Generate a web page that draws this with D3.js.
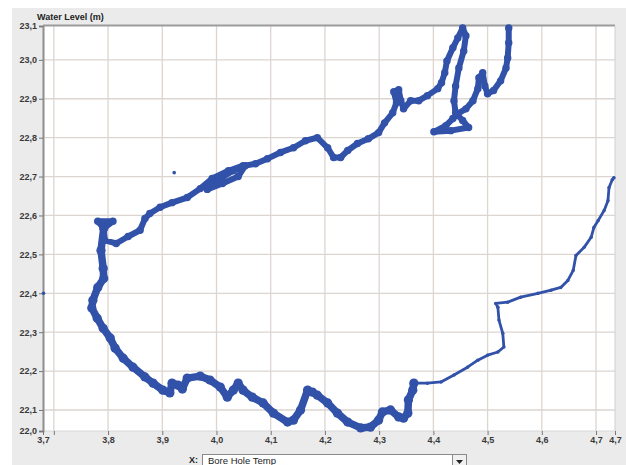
<!DOCTYPE html>
<html><head><meta charset="utf-8">
<script src="https://cdn.jsdelivr.net/npm/d3@7"></script>
<style>body{margin:0;background:#fff}svg{display:block}</style>
</head><body><div id="chart"></div>
<script>
// ---- data (Bore Hole Temp vs Water Level) ----
const xLabel = "Bore Hole Temp";
const yLabel = "Water Level (m)";
const xDomain = [3.680, 4.735];
const yDomain = [22.046, 23.087];
const xTicks = [3.7, 3.8, 3.9, 4.0, 4.1, 4.2, 4.3, 4.4, 4.5, 4.6, 4.7];
const yTicks = [22.1, 22.2, 22.3, 22.4, 22.5, 22.6, 22.7, 22.8, 22.9, 23.0];

const upperTrack = [[4.539,23.082],[4.539,23.044],[4.537,23.005],[4.534,22.979],[4.524,22.946],[4.511,22.921],[4.500,22.913],[4.495,22.933],[4.491,22.967],[4.484,22.954],[4.482,22.926],[4.473,22.895],[4.460,22.874],[4.445,22.862],[4.436,22.849],[4.423,22.831],[4.401,22.815],[4.432,22.818],[4.465,22.826],[4.454,22.844],[4.441,22.864],[4.438,22.895],[4.441,22.933],[4.447,22.979],[4.456,23.023],[4.460,23.062],[4.454,23.082],[4.445,23.056],[4.436,23.031],[4.425,22.997],[4.421,22.967],[4.415,22.941],[4.408,22.926],[4.389,22.908],[4.373,22.895],[4.358,22.895],[4.345,22.874],[4.340,22.895],[4.336,22.923],[4.327,22.918],[4.332,22.890],[4.325,22.864],[4.310,22.838],[4.299,22.813],[4.280,22.797],[4.260,22.785],[4.242,22.767],[4.229,22.749],[4.216,22.749],[4.205,22.774],[4.186,22.800],[4.164,22.792],[4.142,22.774],[4.118,22.762],[4.094,22.746],[4.072,22.733],[4.053,22.728],[4.040,22.700],[4.011,22.682],[3.983,22.667],[4.003,22.692],[4.031,22.715],[4.049,22.728],[4.022,22.715],[3.992,22.695],[3.970,22.669],[3.946,22.646],[3.918,22.633],[3.896,22.621],[3.877,22.605],[3.868,22.592],[3.859,22.562],[3.837,22.546],[3.815,22.528],[3.794,22.536],[3.792,22.567],[3.781,22.585],[3.809,22.585],[3.792,22.567]];

const lowerTrack = [[3.792,22.567],[3.787,22.510],[3.791,22.464],[3.792,22.438],[3.781,22.415],[3.772,22.382],[3.770,22.362],[3.780,22.336],[3.791,22.310],[3.804,22.285],[3.813,22.259],[3.828,22.233],[3.846,22.210],[3.868,22.185],[3.883,22.169],[3.901,22.151],[3.914,22.144],[3.918,22.169],[3.929,22.164],[3.937,22.154],[3.946,22.182],[3.970,22.187],[3.988,22.177],[4.007,22.159],[4.020,22.133],[4.031,22.151],[4.040,22.169],[4.049,22.151],[4.066,22.133],[4.086,22.118],[4.105,22.092],[4.131,22.069],[4.142,22.074],[4.155,22.100],[4.168,22.151],[4.177,22.146],[4.186,22.138],[4.205,22.118],[4.223,22.092],[4.242,22.069],[4.266,22.054],[4.284,22.056],[4.299,22.074],[4.306,22.095],[4.321,22.100],[4.336,22.082],[4.345,22.079],[4.353,22.092],[4.354,22.126],[4.362,22.151],[4.364,22.169]];

const thinTrack = [[4.364,22.169],[4.389,22.169],[4.414,22.172],[4.438,22.190],[4.463,22.210],[4.482,22.228],[4.500,22.241],[4.519,22.249],[4.530,22.262],[4.528,22.297],[4.521,22.331],[4.519,22.364],[4.515,22.374],[4.537,22.377],[4.561,22.390],[4.593,22.400],[4.617,22.408],[4.635,22.415],[4.648,22.433],[4.658,22.459],[4.663,22.497],[4.678,22.518],[4.691,22.544],[4.696,22.569],[4.704,22.587],[4.715,22.613],[4.722,22.638],[4.724,22.672],[4.730,22.692],[4.733,22.697]];

const outliers = [[3.922,22.710],[3.681,22.400]];

// ---- layout ----
const W = 626, H = 465;
const m = {left: 43, top: 26, right: 615, bottom: 431};
const blue = "#3152a8";
const font = "'Liberation Sans', Arial, sans-serif";

const svg = d3.select("#chart").append("svg").attr("width", W).attr("height", H);
svg.append("rect").attr("x", 0).attr("y", 0).attr("width", W).attr("height", H).attr("fill", "#fff");
svg.append("rect").attr("x", 12).attr("y", 8).attr("width", W - 12).attr("height", H - 8).attr("fill", "#ebebeb");

const x = d3.scaleLinear().domain(xDomain).range([m.left, m.right]);
const y = d3.scaleLinear().domain(yDomain).range([m.bottom, m.top]);

svg.append("rect").attr("x", m.left).attr("y", m.top)
  .attr("width", m.right - m.left).attr("height", m.bottom - m.top).attr("fill", "#fff");

// grid
const g = svg.append("g");
g.selectAll("line.vx").data(xTicks).join("line")
  .attr("x1", d => x(d)).attr("x2", d => x(d)).attr("y1", m.top).attr("y2", m.bottom)
  .attr("stroke", "#ddd5d0").attr("stroke-width", 1.3);
g.selectAll("line.hy").data(yTicks).join("line")
  .attr("y1", d => y(d)).attr("y2", d => y(d)).attr("x1", m.left).attr("x2", m.right)
  .attr("stroke", "#ddd5d0").attr("stroke-width", 1.3);

// frame
svg.append("line").attr("x1", m.left).attr("x2", m.right).attr("y1", m.top - 0.5).attr("y2", m.top - 0.5)
  .attr("stroke", "#9c9c9c").attr("stroke-width", 2);
svg.append("line").attr("x1", m.right).attr("x2", m.right).attr("y1", m.top).attr("y2", m.bottom)
  .attr("stroke", "#d0d0d0").attr("stroke-width", 1);
svg.append("line").attr("x1", m.left).attr("x2", m.right).attr("y1", m.bottom).attr("y2", m.bottom)
  .attr("stroke", "#d8d8d8").attr("stroke-width", 1);

// axes
const fmt = v => d3.format(".1f")(v).replace(".", ",");
const yAxis = d3.axisLeft(y).tickValues([yDomain[0], ...yTicks, yDomain[1]])
  .tickFormat(fmt).tickSize(4).tickPadding(2);
const ya = svg.append("g").attr("transform", `translate(${m.left},0)`).call(yAxis);
ya.select(".domain").attr("stroke", "#8e8e8e").attr("stroke-width", 2);
ya.selectAll(".tick line").attr("stroke", "#777");
ya.selectAll("text").attr("font-family", font).attr("font-size", 9).attr("fill", "#3a3a3a").attr("font-weight", "bold");

const xAxis = d3.axisBottom(x).tickValues([xDomain[0], ...xTicks, xDomain[1]])
  .tickFormat((v, i) => i === 1 ? "" : fmt(v)).tickSize(4).tickPadding(2);
const xa = svg.append("g").attr("transform", `translate(0,${m.bottom})`).call(xAxis);
xa.select(".domain").remove();
xa.selectAll(".tick line").attr("stroke", "#777");
xa.selectAll("text").attr("font-family", font).attr("font-size", 9).attr("fill", "#3a3a3a").attr("font-weight", "bold");

// data
svg.append("clipPath").attr("id", "clip").append("rect")
  .attr("x", m.left - 3).attr("y", m.top - 2).attr("width", m.right - m.left + 6).attr("height", m.bottom - m.top + 4);
const plot = svg.append("g").attr("clip-path", "url(#clip)");
const line = d3.line().x(d => x(d[0])).y(d => y(d[1])).curve(d3.curveLinear);
const tracks = [
  {data: upperTrack, w: 6},
  {data: lowerTrack, w: 7.5},
  {data: thinTrack, w: 2.8}
];
tracks.forEach(t => {
  plot.append("path").datum(t.data).attr("d", line)
    .attr("fill", "none").attr("stroke", blue).attr("stroke-width", t.w)
    .attr("stroke-linejoin", "round").attr("stroke-linecap", "round");
  plot.append("g").selectAll("circle").data(t.data).join("circle")
    .attr("cx", d => x(d[0])).attr("cy", d => y(d[1])).attr("r", t.w * 0.62).attr("fill", blue);
});
plot.append("g").selectAll("circle").data(outliers).join("circle")
  .attr("cx", d => x(d[0])).attr("cy", d => y(d[1])).attr("r", 1.8).attr("fill", blue);

// y label
svg.append("text").attr("x", 37).attr("y", 20).text(yLabel)
  .attr("font-family", font).attr("font-size", 9).attr("font-weight", "bold").attr("fill", "#222");

// x selector
svg.append("text").attr("x", 198).attr("y", 463).attr("text-anchor", "end").text("X:")
  .attr("font-family", font).attr("font-size", 9).attr("font-weight", "bold").attr("fill", "#222");
svg.append("rect").attr("x", 202.5).attr("y", 454.5).attr("width", 264).attr("height", 16)
  .attr("fill", "#fff").attr("stroke", "#8a8a8a");
svg.append("text").attr("x", 208).attr("y", 463.5).text(xLabel)
  .attr("font-family", font).attr("font-size", 9.5).attr("fill", "#222");
svg.append("rect").attr("x", 452.5).attr("y", 454.5).attr("width", 14).attr("height", 16)
  .attr("fill", "#f0f0f0").attr("stroke", "#8a8a8a");
svg.append("path").attr("d", "M456,460 L463,460 L459.5,464 Z").attr("fill", "#222");
</script></body></html>
